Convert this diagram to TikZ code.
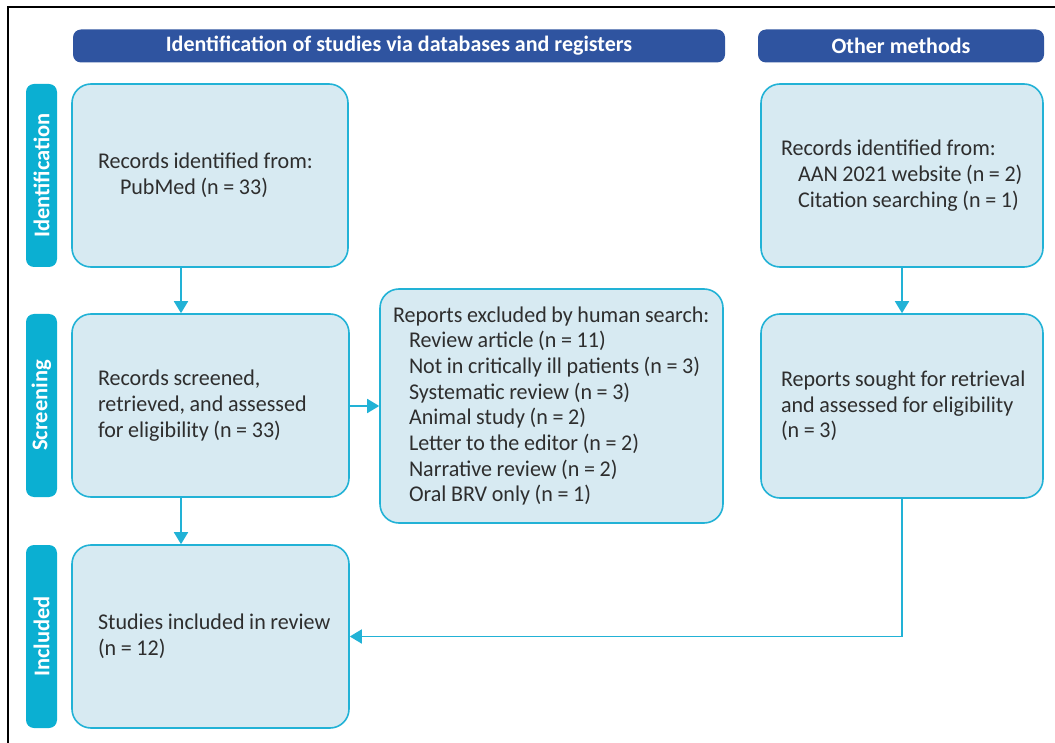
\documentclass[tikz,border=0pt]{standalone}
\usepackage{fontspec}
\setmainfont{Carlito}
\newfontfamily\boxfont[FakeStretch=0.98]{Carlito}
\usetikzlibrary{arrows.meta}

\definecolor{hdrblue}{HTML}{2F54A0}
\definecolor{stagecyan}{HTML}{0BAFD2}
\definecolor{boxfill}{HTML}{D7EAF2}
\definecolor{boxline}{HTML}{22B2D6}
\definecolor{txtgray}{HTML}{2E2E2E}

\tikzset{
  header/.style={fill=hdrblue, rounded corners=8pt, text=white, inner sep=0pt,
    font=\bfseries\fontsize{22}{26}\selectfont, minimum height=33pt},
  stage/.style={fill=stagecyan, rounded corners=8pt, text=white, inner sep=0pt,
    font=\bfseries\fontsize{22.5}{26}\selectfont, rotate=90,
    minimum width=183pt, minimum height=31pt},
  recbox/.style={draw=boxline, fill=boxfill, line width=1.6pt, rounded corners=19pt,
    text=txtgray, align=left, inner ysep=0pt,
    font=\boxfont\fontsize{22.5}{25.7}\selectfont,
    execute at begin node={\spaceskip=4.6pt\relax}},
  flow/.style={draw=boxline, line width=1.8pt, -{Triangle[width=14pt,length=12pt]}}
}

\begin{document}
\begin{tikzpicture}[x=1pt,y=-1pt]
    \useasboundingbox (0,0) rectangle (1055,743);
    \draw[line width=2.2pt] (8,743) -- (8,7) -- (1055,7);

    % headers
    \node[header, minimum width=652pt] (hdb) at (399,46) {Identification of studies via databases and registers};
    \node[header, minimum width=286pt] (hoth) at (901,46) {Other methods};

    % stages
    \node[stage] (sid) at (41.5,175.5) {Identification};
    \node[stage] (sscr) at (41.5,405.5) {Screening};
    \node[stage] (sinc) at (41.5,636.5) {Included};

    % boxes
    \node[recbox, minimum width=276pt, minimum height=183pt, inner xsep=26pt, text width=224pt] (id) at (210,175.5)
        {Records identified from:\\ \hspace*{22pt}PubMed (n = 33)};
    \node[recbox, minimum width=277pt, minimum height=183pt, inner xsep=26pt, text width=225pt] (scr) at (210.5,405.5)
        {Records screened,\\ retrieved, and assessed\\ for eligibility (n = 33)};
    \node[recbox, minimum width=277pt, minimum height=183pt, inner xsep=26pt, text width=225pt] (inc) at (210.5,636.5)
        {\mbox{Studies included in review}\\ (n = 12)};
    \node[recbox, minimum width=343pt, minimum height=234pt, inner xsep=13pt, text width=317pt] (excl) at (551.5,406)
        {\mbox{Reports excluded by human search:}\\
         \hspace*{16pt}Review article (n = 11)\\
         \hspace*{16pt}\mbox{Not in critically ill patients (n = 3)}\\
         \hspace*{16pt}Systematic review (n = 3)\\
         \hspace*{16pt}Animal study (n = 2)\\
         \hspace*{16pt}Letter to the editor (n = 2)\\
         \hspace*{16pt}Narrative review (n = 2)\\
         \hspace*{16pt}Oral BRV only (n = 1)};
    \node[recbox, minimum width=282pt, minimum height=183pt, inner xsep=20pt, text width=242pt] (oth1) at (902,175.5)
        {Records identified from:\\
         \hspace*{17pt}\mbox{AAN 2021 website (n = 2)}\\
         \hspace*{17pt}\mbox{Citation searching (n = 1)}};
    \node[recbox, minimum width=282pt, minimum height=184pt, inner xsep=20pt, text width=242pt] (oth2) at (902,406)
        {\mbox{Reports sought for retrieval}\\ \mbox{and assessed for eligibility}\\ (n = 3)};

    % connectors
    \draw[flow] ([xshift=-29pt]id.south) -- ([xshift=-29.5pt]scr.north);
    \draw[flow] ([xshift=-29.5pt]scr.south) -- ([xshift=-29.5pt]inc.north);
    \draw[flow] (scr.east |- excl.west) -- (excl.west);
    \draw[flow] (oth1) -- (oth2);
    \draw[flow] (oth2.south) |- (inc.east);
\end{tikzpicture}
\end{document}
